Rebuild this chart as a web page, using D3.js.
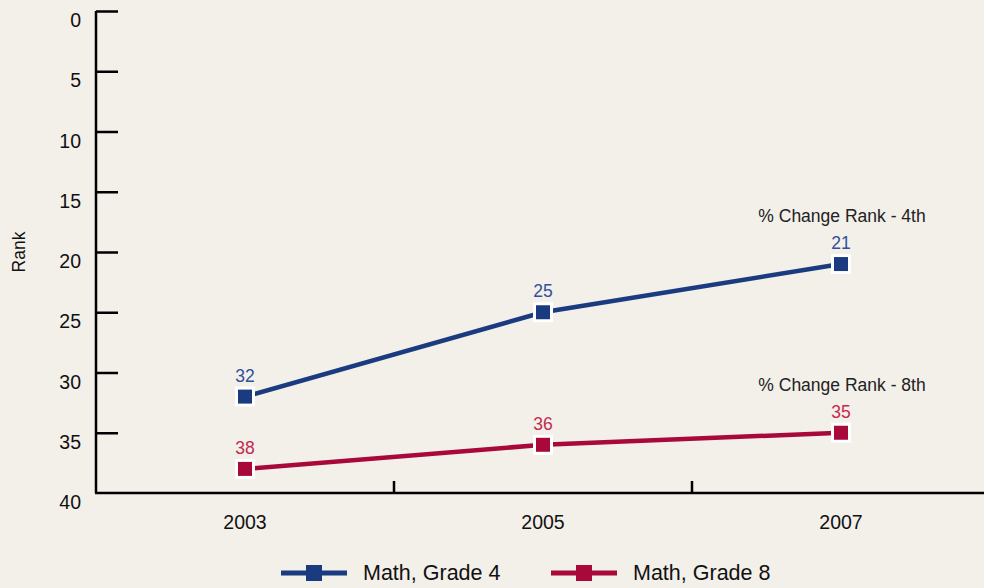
<!DOCTYPE html>
<html>
<head>
<meta charset="utf-8">
<script src="https://d3js.org/d3.v7.min.js"></script>
<style>
  body { margin: 0; background: #f3efe9; font-family: 'Liberation Sans', Arial, sans-serif; }
</style>
</head>
<body>
<div id="chart"></div>
<script>
  // data
  const years = ["2003", "2005", "2007"]
  const grade4 = [32, 25, 21]
  const grade8 = [38, 36, 35]
  const yTicks = [0, 5, 10, 15, 20, 25, 30, 35, 40]
  const seriesNames = ["Math, Grade 4", "Math, Grade 8"]
  const notes = ["% Change Rank - 4th", "% Change Rank - 8th"]

  const W = 984, H = 588
  const blue = "#1b3b80", red = "#a8083a"
  const blueTxt = "#30509a", redTxt = "#c12a52"

  const svg = d3.select("#chart").append("svg")
    .attr("width", W).attr("height", H)

  const x = d3.scaleBand().domain(years).range([96, 990])
  const y = d3.scaleLinear().domain([0, 40]).range([11, 493])

  // y axis
  const yAxis = svg.append("g").attr("transform", "translate(96,0)")
    .call(d3.axisRight(y).tickValues(yTicks).tickSize(22).tickFormat(""))
  yAxis.select(".domain").attr("stroke", "#000").attr("stroke-width", 2.5).attr("d", `M0,${y(0)}V${y(40)}`)
  yAxis.selectAll(".tick line").attr("stroke", "#000").attr("stroke-width", 2.5)
    .filter(d => d == 40).remove()

  svg.append("g").selectAll("text").data(yTicks).join("text")
    .attr("x", 81).attr("y", d => y(d) + 16)
    .attr("text-anchor", "end")
    .attr("font-size", 19.5).attr("fill", "#111")
    .text(d => d)

  // x axis
  svg.append("line").attr("x1", 95).attr("x2", W).attr("y1", y(40)).attr("y2", y(40))
    .attr("stroke", "#000").attr("stroke-width", 2.5)
  svg.append("g").selectAll("line").data(years.slice(1)).join("line")
    .attr("x1", d => x(d)).attr("x2", d => x(d))
    .attr("y1", y(40)).attr("y2", y(40) - 12)
    .attr("stroke", "#000").attr("stroke-width", 2.5)
  svg.append("g").selectAll("text").data(years).join("text")
    .attr("x", d => x(d) + x.bandwidth() / 2).attr("y", 529)
    .attr("text-anchor", "middle").attr("font-size", 19.5).attr("fill", "#111")
    .text(d => d)

  // y title
  svg.append("text")
    .attr("transform", "translate(25,252) rotate(-90)")
    .attr("text-anchor", "middle").attr("font-size", 17.5).attr("fill", "#111")
    .text("Rank")

  const cx = d => x(d) + x.bandwidth() / 2
  const line = d3.line().x(d => cx(d.year)).y(d => y(d.v))

  const series = [
    { vals: grade4, col: blue, txt: blueTxt },
    { vals: grade8, col: red, txt: redTxt }
  ]

  series.forEach((s, k) => {
    const pts = years.map((yr, i) => ({ year: yr, v: s.vals[i] }))
    svg.append("path").datum(pts)
      .attr("d", line).attr("fill", "none")
      .attr("stroke", s.col).attr("stroke-width", 4.5)
    svg.append("g").selectAll("rect").data(pts).join("rect")
      .attr("x", d => cx(d.year) - 8.5).attr("y", d => y(d.v) - 8.5)
      .attr("width", 17).attr("height", 17)
      .attr("fill", s.col).attr("stroke", "#fff").attr("stroke-width", 3)
    svg.append("g").selectAll("text").data(pts).join("text")
      .attr("x", d => cx(d.year)).attr("y", d => y(d.v) - 15)
      .attr("text-anchor", "middle").attr("font-size", 17.5).attr("fill", s.txt)
      .text(d => d.v)
    // note above last point
    const last = pts[pts.length - 1]
    svg.append("text")
      .attr("x", cx(last.year) + 1).attr("y", y(last.v) - 42)
      .attr("text-anchor", "middle").attr("font-size", 17.5).attr("fill", "#222")
      .text(notes[k])
  })

  // legend
  const legX = [281, 551]
  series.forEach((s, k) => {
    const g = svg.append("g").attr("transform", `translate(${legX[k]},573)`)
    g.append("line").attr("x1", 0).attr("x2", 66).attr("stroke", s.col).attr("stroke-width", 5)
    g.append("rect").attr("x", 25).attr("y", -8).attr("width", 16).attr("height", 16).attr("fill", s.col)
    g.append("text").attr("x", 82).attr("y", 7).attr("font-size", 21.5).attr("fill", "#111")
      .text(seriesNames[k])
  })
</script>
</body>
</html>
